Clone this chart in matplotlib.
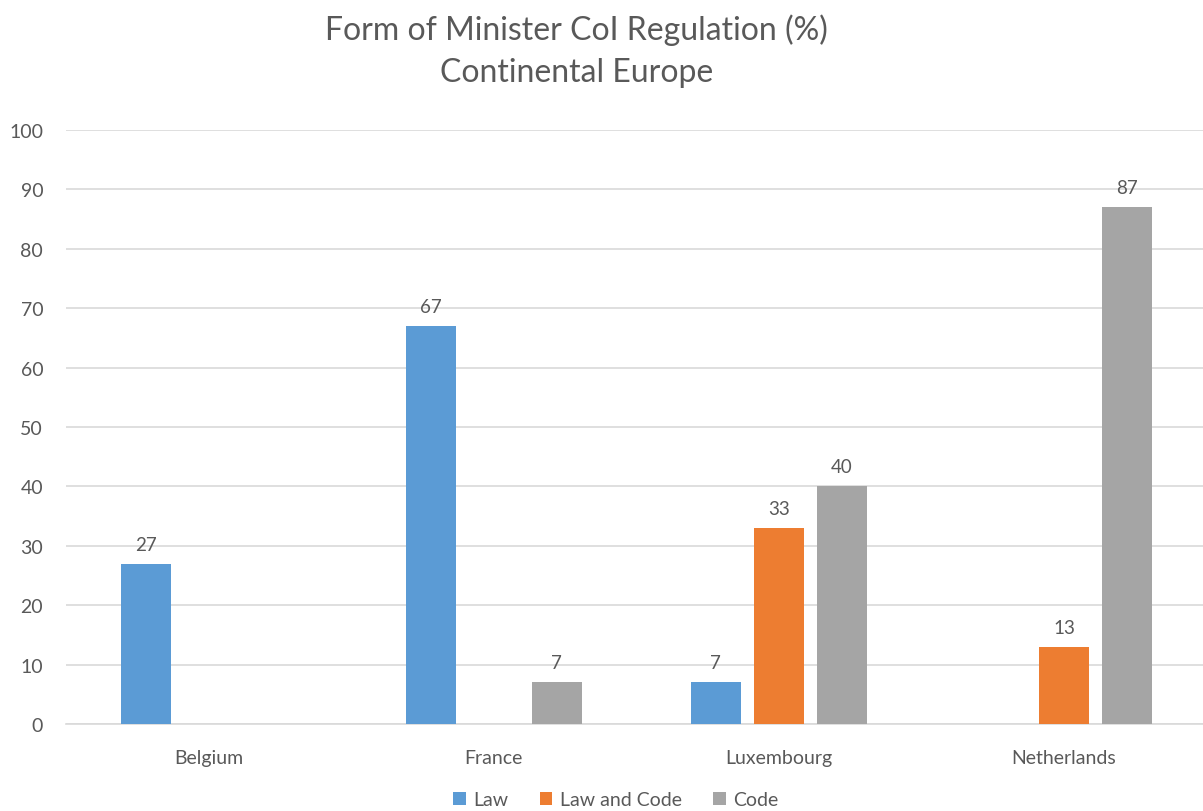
import numpy as np
import matplotlib.pyplot as plt

plt.rcParams["font.family"] = ["Lato", "DejaVu Sans"]

COUNTRIES = ["Belgium", "France", "Luxembourg", "Netherlands"]
SERIES = ["Law", "Law and Code", "Code"]
LAW = [27, 67, 7, np.nan]
LAW_AND_CODE = [np.nan, np.nan, 33, 13]
CODE = [np.nan, 7, 40, 87]
Y_TICKS = [0, 10, 20, 30, 40, 50, 60, 70, 80, 90, 100]

COLORS = ["#5B9BD5", "#ED7D31", "#A5A5A5"]
TEXT = "#595959"
GRID = "#D9D9D9"

fig = plt.figure(figsize=(12.03, 8.12), dpi=100)
ax = fig.add_axes([0.0549, 0.1071, 0.9480, 0.7315])

x = np.arange(len(COUNTRIES))
width = 0.175
step = 0.221

for i, (name, vals) in enumerate(zip(SERIES, [LAW, LAW_AND_CODE, CODE])):
    pos = x + (i - 1) * step
    vals = np.array(vals, dtype=float)
    ax.bar(pos, np.nan_to_num(vals), width, color=COLORS[i], label=name, zorder=3)
    for px, v in zip(pos, vals):
        if not np.isnan(v):
            ax.annotate(f"{v:.0f}", (px, v), xytext=(0, 8), textcoords="offset points",
                        ha="center", va="bottom", fontsize=13.5, color=TEXT)

ax.set_xlim(-0.5, len(COUNTRIES) - 0.5)
ax.set_ylim(0, 100)
ax.set_yticks(Y_TICKS)
ax.set_xticks(x)
ax.set_xticklabels(COUNTRIES)
ax.yaxis.grid(True, color=GRID, linewidth=1.2, zorder=0)
ax.tick_params(axis="both", length=0, labelsize=14, labelcolor=TEXT)
ax.tick_params(axis="y", pad=16.5)
ax.tick_params(axis="x", pad=18)
for side in ["top", "right", "left"]:
    ax.spines[side].set_visible(False)
ax.spines["bottom"].set_color(GRID)
ax.spines["bottom"].set_linewidth(1.2)

fig.text(0.479, 0.963, "Form of Minister CoI Regulation (%)", ha="center", va="center",
         fontsize=23, color=TEXT)
fig.text(0.479, 0.910, "Continental Europe", ha="center", va="center",
         fontsize=23, color=TEXT)

fig.legend(loc="center", bbox_to_anchor=(0.512, 0.014), ncol=3, frameon=False,
           fontsize=14, labelcolor=TEXT, handlelength=0.65, handleheight=0.65,
           handletextpad=0.4, columnspacing=1.6)

fig.savefig("out.png", dpi=100)
